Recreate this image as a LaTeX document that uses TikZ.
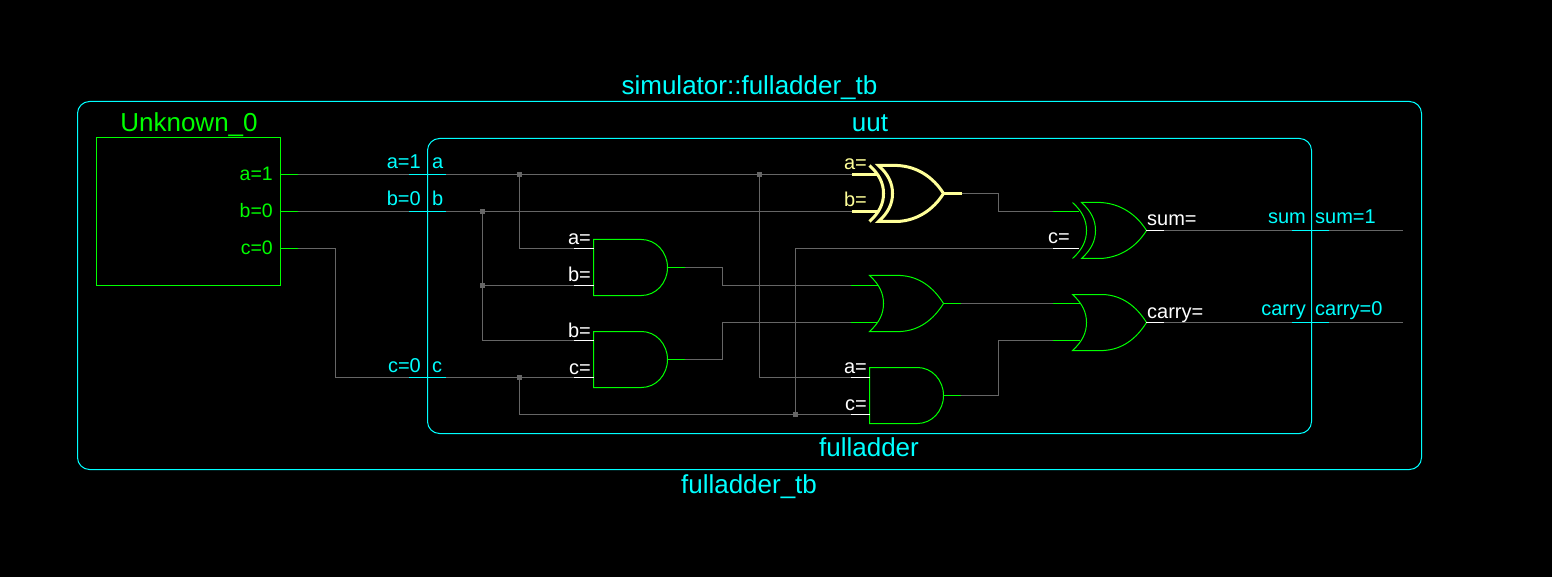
\documentclass[tikz,border=0pt]{standalone}
\usepackage{fontspec}
\setmainfont{Liberation Sans}
\definecolor{hdlcyan}{RGB}{0,255,255}
\definecolor{hdlgreen}{RGB}{0,255,0}
\definecolor{hdlyellow}{RGB}{255,255,153}
\definecolor{hdlwire}{RGB}{102,102,102}
\tikzstyle{wire}      = [hdlwire, line width=1pt]
\tikzstyle{whitepin}  = [white, line width=1pt]
\tikzstyle{greenpin}  = [hdlgreen, line width=1pt]
\tikzstyle{yellowpin} = [hdlyellow, line width=3pt]
\tikzstyle{portseg}   = [hdlcyan, line width=1pt]
\tikzstyle{junction}  = [rectangle, fill=hdlwire, inner sep=0pt, minimum size=5pt]
\tikzstyle{hier}      = [rectangle, draw=hdlcyan, line width=1pt, rounded corners=12pt, inner sep=0pt, outer sep=0pt, anchor=north west]
\tikzstyle{srcbox}    = [rectangle, draw=hdlgreen, line width=1pt, inner sep=0pt, outer sep=0pt, anchor=north west]
\tikzstyle{bigtxt}    = [font=\fontsize{26}{28}\selectfont, text=hdlcyan, inner sep=0pt, anchor=base]
\tikzstyle{pintxt}    = [font=\fontsize{20}{22}\selectfont, text=white, inner sep=0pt, anchor=base east]
\tikzstyle{porttxt}   = [font=\fontsize{20}{22}\selectfont, text=hdlcyan, inner sep=0pt, anchor=base east]
\tikzstyle{srctxt}    = [font=\fontsize{19.5}{22}\selectfont, text=hdlgreen, inner sep=0pt, anchor=base east]
\tikzstyle{gategreen} = [color=hdlgreen, line width=1pt]
\tikzstyle{gateyellow}= [color=hdlyellow, line width=3pt]
\tikzset{
  andbody/.pic={
    \draw (48,0) -- (0,0) -- (0,56) -- (48,56)
      .. controls (62.4,56) and (74,43.5) .. (74,28)
      .. controls (74,12.5) and (62.4,0) .. (48,0);
  },
  orbody/.pic={
    \draw (0,0) -- (31,0) .. controls (50,1) and (64,12) .. (74,28)
      .. controls (64,44) and (50,55) .. (31,56) -- (0,56)
      .. controls (10,47) and (14,38) .. (14,28)
      .. controls (14,18) and (10,9) .. (0,0) -- cycle;
  },
  xorbody/.pic={
    \draw (9,0) -- (28,0) .. controls (48,1) and (64,12) .. (74,28)
      .. controls (64,44) and (48,55) .. (28,56) -- (9,56)
      .. controls (19,47) and (23,38) .. (23,28)
      .. controls (23,18) and (19,9) .. (9,0) -- cycle;
    \draw (0,0) .. controls (10,9) and (14,18) .. (14,28)
      .. controls (14,38) and (10,47) .. (0,56);
  }
}
\begin{document}
\begin{tikzpicture}[x=1pt,y=-1pt]
    \useasboundingbox (0,0) rectangle (1552,577);
    \fill[black] (0,0) rectangle (1552,577);

    % hierarchy
    \node[hier, minimum width=1344pt, minimum height=368pt] (tbbox) at (77.5,101.5) {};
    \node[hier, minimum width=884pt, minimum height=295pt] (uutbox) at (427.5,138.5) {};
    \node[srcbox, minimum width=184pt, minimum height=148pt] (srcblk) at (96.5,137.5) {};
    \node[bigtxt] (simtitle) at (749.5,95) {simulator::fulladder\_tb};
    \node[bigtxt] (tbtitle) at (749,493) {fulladder\_tb};
    \node[bigtxt] (uuttitle) at (870,132) {uut};
    \node[bigtxt] (addtitle) at (869,456) {fulladder};
    \node[bigtxt, text=hdlgreen] (srctitle) at (189,132) {Unknown\_0};

    % pin ends
    \coordinate (srcA) at (280.5,174.5);
    \coordinate (srcB) at (280.5,211.5);
    \coordinate (srcC) at (280.5,248.5);
    \coordinate (srcAe) at (298,174.5);
    \coordinate (srcBe) at (298,211.5);
    \coordinate (srcCe) at (298,248.5);
    \coordinate (andAa) at (574,248.5);
    \coordinate (andAb) at (574,285.5);
    \coordinate (andAo) at (685,267.5);
    \coordinate (andBb) at (574,340.5);
    \coordinate (andBc) at (574,377.5);
    \coordinate (andBo) at (685,359.5);
    \coordinate (andCa) at (851,377.5);
    \coordinate (andCc) at (851,414.5);
    \coordinate (andCo) at (961,395.5);
    \coordinate (orAa) at (851,285.5);
    \coordinate (orAb) at (851,322.5);
    \coordinate (orAo) at (961,303.5);
    \coordinate (orBa) at (1053,303.5);
    \coordinate (orBb) at (1053,340.5);
    \coordinate (orBo) at (1164,322.5);
    \coordinate (xorAa) at (852,174.5);
    \coordinate (xorAb) at (852,211.5);
    \coordinate (xorAo) at (962,193.5);
    \coordinate (xorBa) at (1053,211.5);
    \coordinate (xorBc) at (1053,248.5);
    \coordinate (xorBo) at (1164,230.5);
    \coordinate (sumEnd) at (1403,230.5);
    \coordinate (carryEnd) at (1403,322.5);

    % junctions
    \node[junction] (jA1) at (519.5,174.5) {};
    \node[junction] (jA2) at (759.5,174.5) {};
    \node[junction] (jB1) at (482.5,211.5) {};
    \node[junction] (jB2) at (482.5,285.5) {};
    \node[junction] (jC1) at (519.5,377.5) {};
    \node[junction] (jC2) at (795.5,414.5) {};

    % nets
    \draw[wire] (srcAe) -- (jA1) -- (jA2) -- (xorAa);
    \draw[wire] (srcBe) -- (jB1) -- (xorAb);
    \draw[wire] (srcCe) -- (335.5,248.5) -- (335.5,377.5) -- (jC1) -- (andBc);
    \draw[wire] (jA1) |- (andAa);
    \draw[wire] (jB1) -- (jB2) -- (andAb);
    \draw[wire] (jB2) |- (andBb);
    \draw[wire] (jA2) |- (andCa);
    \draw[wire] (jC1) |- (jC2) -- (andCc);
    \draw[wire] (jC2) |- (xorBc);
    \draw[wire] (andAo) -- (722.5,267.5) |- (orAa);
    \draw[wire] (andBo) -- (722.5,359.5) |- (orAb);
    \draw[wire] (andCo) -- (998.5,395.5) |- (orBb);
    \draw[wire] (orAo) -- (orBa);
    \draw[wire] (xorAo) -- (998.5,193.5) |- (xorBa);
    \draw[wire] (xorBo) -- (sumEnd);
    \draw[wire] (orBo) -- (carryEnd);

    % gates
    \pic[gategreen] at (593.5,239.5) {andbody};
    \pic[gategreen] at (593.5,331.5) {andbody};
    \pic[gategreen] at (869.5,367.5) {andbody};
    \pic[gategreen] at (869.5,275.5) {orbody};
    \pic[gategreen] at (1072.5,294.5) {orbody};
    \pic[gategreen] at (1072.5,202.5) {xorbody};
    \pic[gateyellow] at (869.5,165.5) {xorbody};

    % pin stubs
    \draw[greenpin] (srcA) -- (srcAe);
    \draw[greenpin] (srcB) -- (srcBe);
    \draw[greenpin] (srcC) -- (srcCe);
    \draw[whitepin] (andAa) -- ++(19.5,0);
    \draw[whitepin] (andAb) -- ++(19.5,0);
    \draw[whitepin] (andBb) -- ++(19.5,0);
    \draw[whitepin] (andBc) -- ++(19.5,0);
    \draw[whitepin] (andCa) -- ++(18.5,0);
    \draw[whitepin] (andCc) -- ++(18.5,0);
    \draw[greenpin] (andAo) -- ++(-18,0);
    \draw[greenpin] (andBo) -- ++(-18,0);
    \draw[greenpin] (andCo) -- ++(-17,0);
    \draw[greenpin] (orAa) -- ++(27,0);
    \draw[greenpin] (orAb) -- ++(27,0);
    \draw[greenpin] (orAo) -- ++(-18,0);
    \draw[greenpin] (orBa) -- ++(27,0);
    \draw[greenpin] (orBb) -- ++(27,0);
    \draw[whitepin] (orBo) -- ++(-18,0);
    \draw[yellowpin] (xorAa) -- ++(25,0);
    \draw[yellowpin] (xorAb) -- ++(25,0);
    \draw[yellowpin] (xorAo) -- ++(-19,0);
    \draw[greenpin] (xorBa) -- ++(26,0);
    \draw[whitepin] (xorBc) -- ++(26,0);
    \draw[whitepin] (xorBo) -- ++(-18,0);

    % port marks
    \draw[portseg] (409,174.5) -- (446,174.5);
    \draw[portseg] (409,211.5) -- (446,211.5);
    \draw[portseg] (409,377.5) -- (446,377.5);
    \draw[portseg] (1292,230.5) -- (1329,230.5);
    \draw[portseg] (1292,322.5) -- (1329,322.5);

    % labels
    \node[srctxt] (lsa) at (273,181) {a=1};
    \node[srctxt] (lsb) at (273,218) {b=0};
    \node[srctxt] (lsc) at (273,255) {c=0};
    \node[porttxt] (lpa) at (421,169) {a=1};
    \node[porttxt, anchor=base west] (lpa2) at (432,169) {a};
    \node[porttxt] (lpb) at (421,206) {b=0};
    \node[porttxt, anchor=base west] (lpb2) at (432,206) {b};
    \node[porttxt] (lpc) at (421,372) {c=0};
    \node[porttxt, anchor=base west] (lpc2) at (432,372) {c};
    \node[porttxt] (lps) at (1306,224) {sum};
    \node[porttxt, anchor=base west] (lps2) at (1315,224) {sum=1};
    \node[porttxt] (lpk) at (1306,316) {carry};
    \node[porttxt, anchor=base west] (lpk2) at (1315,316) {carry=0};
    \node[pintxt] (l1) at (591,245) {a=};
    \node[pintxt] (l2) at (591,282) {b=};
    \node[pintxt] (l3) at (591,337) {b=};
    \node[pintxt] (l4) at (591,374) {c=};
    \node[pintxt] (l5) at (867,373) {a=};
    \node[pintxt] (l6) at (867,410) {c=};
    \node[pintxt, text=hdlyellow] (l7) at (867,170) {a=};
    \node[pintxt, text=hdlyellow] (l8) at (867,207) {b=};
    \node[pintxt] (l9) at (1070,244) {c=};
    \node[pintxt, anchor=base west] (l10) at (1147,226) {sum=};
    \node[pintxt, anchor=base west] (l11) at (1147,318) {carry=};
\end{tikzpicture}
\end{document}
